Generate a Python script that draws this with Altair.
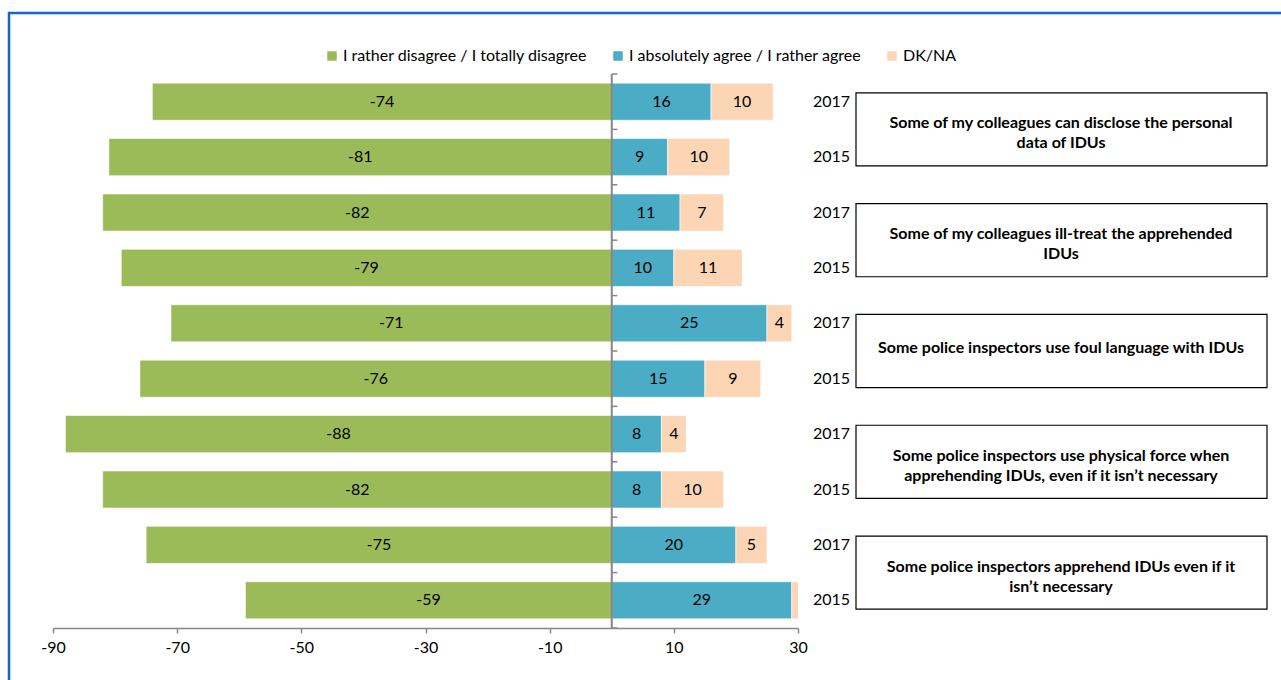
import altair as alt
import pandas as pd

# ---- data ----
questions = [
    "Some of my colleagues can disclose the personal\ndata of IDUs",
    "Some of my colleagues ill-treat the apprehended\nIDUs",
    "Some police inspectors use foul language with IDUs",
    "Some police inspectors use physical force when\napprehending IDUs, even if it isn’t necessary",
    "Some police inspectors apprehend IDUs even if it\nisn’t necessary",
]
years = ["2017", "2015"]
disagree = [74, 81, 82, 79, 71, 76, 88, 82, 75, 59]
agree = [16, 9, 11, 10, 25, 15, 8, 8, 20, 29]
dkna = [10, 10, 7, 11, 4, 9, 4, 10, 5, 12]   # last one is clipped at the axis end (30)

series = ["I rather disagree / I totally disagree",
          "I absolutely agree / I rather agree",
          "DK/NA"]
colors = ["#9BBB59", "#4BACC6", "#FCD5B5"]
x_ticks = [-90, -70, -50, -30, -10, 10, 30]

FONT = "Lato"
FS = 16

# ---- tables ----
rows = []
for i in range(len(disagree)):
    d, a, k = disagree[i], agree[i], dkna[i]
    rows.append(dict(idx=i, series=series[0], start=-d, end=0, label=str(-d)))
    rows.append(dict(idx=i, series=series[1], start=0, end=a, label=str(a)))
    rows.append(dict(idx=i, series=series[2], start=a, end=a + k, label=str(k)))
bars_df = pd.DataFrame(rows)
bars_df["mid"] = (bars_df["start"] + bars_df["end"]) / 2

year_df = pd.DataFrame({"idx": list(range(len(disagree))),
                        "year": [years[i % 2] for i in range(len(disagree))]})
q_df = pd.DataFrame({"q": list(range(len(questions))), "text": questions,
                     "n": [t.count("\n") + 1 for t in questions]})

yscale = alt.Scale(domain=[-0.5, 9.5], reverse=True, nice=False, zero=False)
xscale = alt.Scale(domain=[-90, 30], nice=False, zero=False)

base = alt.Chart(bars_df).transform_calculate(
    y0="datum.idx - 0.335", y1="datum.idx + 0.335"
)

bars = base.mark_rect(clip=True, stroke="white", strokeWidth=0.6).encode(
    x=alt.X("start:Q", scale=xscale,
            axis=alt.Axis(values=x_ticks, title=None, grid=False, domainColor="#868686",
                          domainWidth=1.5, tickColor="#868686", tickSize=5, tickWidth=1.5,
                          labelFont=FONT, labelFontSize=FS, labelColor="#000000",
                          labelPadding=6, labelFlush=False, labelOverlap=False,
                          labelExpr="'' + datum.value")),
    x2="end:Q",
    y=alt.Y("y0:Q", scale=yscale, axis=None),
    y2="y1:Q",
    color=alt.Color("series:N",
                    scale=alt.Scale(domain=series, range=colors),
                    legend=alt.Legend(title=None, orient="none", direction="horizontal",
                                      legendX=271, legendY=-26, symbolType="square",
                                      symbolSize=90, symbolStrokeWidth=0,
                                      labelFont=FONT, labelFontSize=FS,
                                      labelColor="#000000", labelLimit=400,
                                      labelOffset=3, columnPadding=22)),
)

labels = alt.Chart(bars_df).transform_filter("datum.mid <= 30").mark_text(
    font=FONT, fontSize=FS, color="#000000", baseline="middle", align="center"
).encode(
    x=alt.X("mid:Q", scale=xscale),
    y=alt.Y("idx:Q", scale=yscale),
    text="label:N",
)

# vertical zero axis with small ticks between categories
zero_line = alt.Chart(pd.DataFrame({"a": [0]})).mark_rule(
    color="#868686", strokeWidth=2
).encode(x=alt.datum(0), y=alt.datum(-0.5), y2=alt.datum(9.5))

zero_ticks = alt.Chart(alt.sequence(-0.5, 10, 1, as_="b")).mark_rule(
    color="#868686", strokeWidth=1.5
).encode(x=alt.datum(0), x2=alt.datum(0.9), y=alt.Y("b:Q", scale=yscale))

year_text = alt.Chart(year_df).mark_text(
    font=FONT, fontSize=FS, color="#000000", align="right", baseline="middle"
).encode(x=alt.value(797), y=alt.Y("idx:Q", scale=yscale), text="year:N")

boxes = alt.Chart(q_df).transform_calculate(
    t="datum.q * 2 - 0.16", b="datum.q * 2 + 1.16"
).mark_rect(fill="white", stroke="#000000", strokeWidth=1.2).encode(
    x=alt.value(803), x2=alt.value(1214),
    y=alt.Y("t:Q", scale=yscale), y2="b:Q",
)

box_text = alt.Chart(q_df).transform_calculate(
    c="datum.q * 2 + 0.45 - (datum.n - 1) * 0.06"
).mark_text(
    font=FONT, fontSize=FS, fontWeight="bold", color="#000000", align="center",
    baseline="middle", lineBreak="\n", lineHeight=20
).encode(x=alt.value(1008), y=alt.Y("c:Q", scale=yscale), text="text:N")

frame = alt.Chart(pd.DataFrame({"a": [0]})).mark_rect(
    fill=None, stroke="#1565D0", strokeWidth=2.5
).encode(x=alt.value(-44), x2=alt.value(1260), y=alt.value(-61), y2=alt.value(660))

chart = alt.layer(
    frame, bars, labels, zero_line, zero_ticks, year_text, boxes, box_text
).properties(
    width=745, height=554,
    autosize=alt.AutoSizeParams(type="none"),
    padding={"left": 53, "top": 74, "right": 483, "bottom": 52},
    background="white",
).configure_view(strokeWidth=0)

chart.save("out.html", embed_options={"renderer": "svg", "actions": False})
